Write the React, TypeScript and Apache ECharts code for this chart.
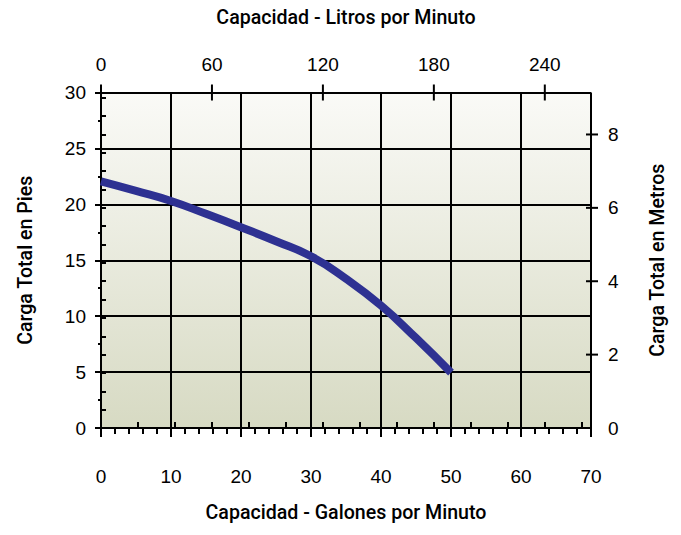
import React, { useEffect, useRef } from "react";
import * as echarts from "echarts";

const gpm = [0, 5, 10, 15, 20, 25, 30, 35, 40, 45, 50];
const headFt = [22.05, 21.2, 20.3, 19.15, 17.95, 16.7, 15.35, 13.35, 10.95, 8.05, 4.95];

const topMajorLpm = [0, 60, 120, 180, 240];
const rightMajorM = [2, 4, 6, 8];

const GPM_MAX = 70;
const FT_MAX = 30;
const LPM_PER_GPM = 3.78541;
const M_PER_FT = 0.3048;

const topTitle = "Capacidad - Litros por Minuto";
const bottomTitle = "Capacidad - Galones por Minuto";
const leftTitle = "Carga Total en Pies";
const rightTitle = "Carga Total en Metros";

const FONT = "'Liberation Sans', Arial, Helvetica, sans-serif";
const TITLE_FONT = "Roboto, 'Liberation Sans', Arial, sans-serif";
const BLACK = "#000";

export default function App() {
  const ref = useRef<HTMLDivElement>(null);
  useEffect(() => {
    document.body.style.margin = "0";
    const chart = echarts.init(ref.current!, null, { renderer: "svg" });
    const lpmMax = GPM_MAX * LPM_PER_GPM;
    const mMax = FT_MAX * M_PER_FT;
    const label = { color: BLACK, fontSize: 19, fontFamily: FONT };
    const nameStyle = { color: BLACK, fontSize: 19.6, fontWeight: 500 as const, fontFamily: TITLE_FONT };
    const tickStyle = { color: BLACK, width: 2 };
    chart.setOption({
      animation: false,
      backgroundColor: "#fff",
      grid: {
        left: 101,
        right: 90,
        top: 92.5,
        bottom: 107,
        show: true,
        borderWidth: 0,
        backgroundColor: new echarts.graphic.LinearGradient(0, 0, 0, 1, [
          { offset: 0, color: "#fafaf7" },
          { offset: 1, color: "#d7dac3" },
        ]),
        outerBoundsMode: "none",
      },
      xAxis: [
        {
          type: "value",
          position: "bottom",
          min: 0,
          max: GPM_MAX,
          interval: 10,
          name: bottomTitle,
          nameLocation: "middle",
          nameGap: 74,
          nameTextStyle: nameStyle,
          axisLine: { show: true, lineStyle: tickStyle },
          axisTick: { show: true, length: 9, lineStyle: tickStyle },
          minorTick: { show: true, splitNumber: 5, length: 6, lineStyle: tickStyle },
          axisLabel: { ...label, margin: 39 },
          splitLine: { show: true, lineStyle: { color: BLACK, width: 2 } },
        },
        {
          type: "value",
          position: "top",
          min: 0,
          max: lpmMax,
          interval: 20,
          name: topTitle,
          nameLocation: "middle",
          nameGap: 65,
          nameTextStyle: nameStyle,
          axisLine: { show: true, lineStyle: tickStyle },
          axisTick: { show: true, length: 6, lineStyle: tickStyle },
          axisLabel: {
            ...label,
            margin: 19,
            showMaxLabel: false,
            formatter: (v: number) => {
              const r = Math.round(v);
              return Math.abs(v - r) < 1e-6 && r % 60 === 0 ? String(r) : "";
            },
          },
          splitLine: { show: false },
        },
      ],
      yAxis: [
        {
          type: "value",
          position: "left",
          min: 0,
          max: FT_MAX,
          interval: 5,
          name: leftTitle,
          nameLocation: "middle",
          nameGap: 66,
          nameTextStyle: nameStyle,
          axisLine: { show: true, lineStyle: tickStyle },
          axisTick: { show: true, length: 6, lineStyle: tickStyle },
          minorTick: { show: true, splitNumber: 2, length: 3, lineStyle: tickStyle },
          axisLabel: { ...label, margin: 15 },
          splitLine: { show: true, lineStyle: { color: BLACK, width: 2 } },
        },
        {
          type: "value",
          position: "right",
          min: 0,
          max: mMax,
          interval: 0.5,
          name: rightTitle,
          nameLocation: "middle",
          nameGap: 56,
          nameTextStyle: nameStyle,
          axisLine: { show: true, lineStyle: tickStyle },
          axisTick: { show: true, length: 5, lineStyle: tickStyle },
          axisLabel: {
            ...label,
            margin: 17,
            showMaxLabel: false,
            formatter: (v: number) => {
              const r = Math.round(v);
              return Math.abs(v - r) < 1e-6 && r % 2 === 0 ? String(r) : "";
            },
          },
          splitLine: { show: false },
        },
      ],
      series: [
        {
          type: "line",
          xAxisIndex: 0,
          yAxisIndex: 0,
          data: gpm.map((g, i) => [g, headFt[i]]),
          smooth: 0.5,
          showSymbol: false,
          lineStyle: { color: "#2e3192", width: 8, cap: "butt" },
          z: 5,
        },
        {
          type: "custom",
          xAxisIndex: 1,
          yAxisIndex: 1,
          clip: false,
          data: topMajorLpm.map((v) => [v, 0]),
          renderItem: (params: any, api: any) => {
            const x = api.coord([api.value(0), 0])[0];
            const top = params.coordSys.y;
            return {
              type: "line",
              shape: { x1: x, y1: top - 8, x2: x, y2: top + 8 },
              style: { stroke: BLACK, lineWidth: 2 },
            };
          },
          z: 6,
        },
        {
          type: "custom",
          xAxisIndex: 1,
          yAxisIndex: 1,
          clip: false,
          data: rightMajorM.map((v) => [0, v]),
          renderItem: (params: any, api: any) => {
            const y = api.coord([0, api.value(1)])[1];
            const right = params.coordSys.x + params.coordSys.width;
            return {
              type: "line",
              shape: { x1: right - 5, y1: y, x2: right + 7, y2: y },
              style: { stroke: BLACK, lineWidth: 2 },
            };
          },
          z: 6,
        },
      ],
    });
    return () => chart.dispose();
  }, []);
  return <div ref={ref} style={{ width: 681, height: 535 }} />;
}
